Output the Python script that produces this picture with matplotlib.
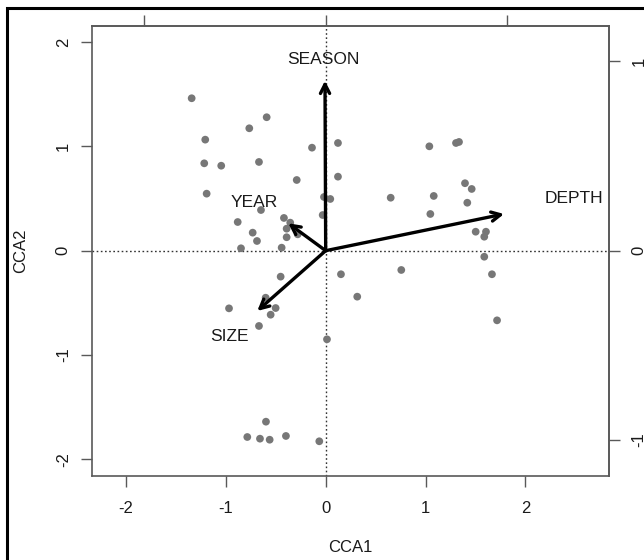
import matplotlib
matplotlib.use("Agg")
import matplotlib.pyplot as plt
from matplotlib.patches import Rectangle

plt.rcParams['font.family'] = ['Liberation Sans', 'DejaVu Sans']
plt.rcParams['axes.unicode_minus'] = False

# site scores (CCA1, CCA2)
site_x = [-1.342, -0.591, -0.765, -1.206, 0.123, -0.137, -1.216, -1.046, -0.668, 0.123,
          -0.290, -1.192, -0.017, 0.046, -0.648, -0.030, -0.881, -0.418, -0.355, -0.391,
          -0.280, -0.731, -0.688, -0.391, -0.848, -0.441,
          -0.451, 0.153, 0.316, -0.601, -0.968, -0.501, -0.551, -0.668, 0.013, -0.598,
          -0.785, -0.658, -0.561, -0.398, -0.064,
          1.038, 1.305, 1.335, 1.395, 1.462, 0.651, 1.082, 1.418, 1.048, 1.502,
          1.605, 1.588, 1.588, 0.757, 1.665, 1.716]
site_y = [1.462, 1.280, 1.174, 1.065, 1.033, 0.988, 0.838, 0.815, 0.851, 0.710,
          0.678, 0.547, 0.515, 0.496, 0.390, 0.342, 0.275, 0.314, 0.269, 0.211,
          0.157, 0.173, 0.093, 0.129, 0.023, 0.029,
          -0.249, -0.226, -0.441, -0.451, -0.553, -0.550, -0.614, -0.722, -0.850, -1.640,
          -1.787, -1.803, -1.813, -1.777, -1.828,
          1.001, 1.033, 1.043, 0.647, 0.592, 0.508, 0.525, 0.460, 0.352, 0.182,
          0.182, 0.134, -0.058, -0.185, -0.226, -0.668]

# environmental arrows (end points in plot units) and label positions
env_names = ['SEASON', 'DEPTH', 'YEAR', 'SIZE']
env_x = [-0.007, 1.786, -0.375, -0.685]
env_y = [1.63, 0.352, 0.263, -0.578]
lab_x = [-0.02, 2.49, -0.72, -0.965]
lab_y = [1.83, 0.496, 0.46, -0.825]

arrow_mul = 1.815  # scaling of the biplot arrows (top / right axes)

xticks = [-2, -1, 0, 1, 2]
yticks = [-2, -1, 0, 1, 2]
arrow_ticks = [-1, 0, 1]

W, H = 644, 560
fig = plt.figure(figsize=(W / 100, H / 100), dpi=100)
ax = fig.add_axes([91.7 / W, 1 - 476 / H, (609.3 - 91.7) / W, (476 - 26) / H])

frame_col = '#595959'
txt_col = '#1a1a1a'

ax.axhline(0, color='#333333', lw=1, ls=(0, (1.2, 1.8)), zorder=1)
ax.axvline(0, color='#333333', lw=1, ls=(0, (1.2, 1.8)), zorder=1)

ax.scatter(site_x, site_y, s=31, color='#777777', edgecolors='none', zorder=2)

for name, x, y, lx, ly in zip(env_names, env_x, env_y, lab_x, lab_y):
    ax.annotate('', xy=(x, y), xytext=(0, 0),
                arrowprops=dict(arrowstyle='->, head_length=0.65, head_width=0.33',
                                lw=2.4, color='black', shrinkA=0, shrinkB=0),
                zorder=3)
    ax.text(lx, ly, name, ha='center', va='center', fontsize=12.5, color=txt_col, zorder=4)

ax.set_xlim(-2.343, 2.840)
ax.set_ylim(-2.161, 2.155)
ax.set_xticks(xticks)
ax.set_yticks(yticks)
ax.set_xticklabels([str(t) for t in xticks])
ax.set_yticklabels([str(t) for t in yticks])

for sp in ax.spines.values():
    sp.set_color(frame_col)
    sp.set_linewidth(1.2)
ax.tick_params(axis='both', direction='out', length=8, width=1, color=frame_col,
               labelsize=12, labelcolor=txt_col)
ax.tick_params(axis='x', pad=10)
ax.tick_params(axis='y', pad=7, labelrotation=90)
for lbl in ax.get_yticklabels():
    lbl.set_va('center')

# secondary axes for arrow scale
top = ax.secondary_xaxis('top', functions=(lambda v: v / arrow_mul, lambda v: v * arrow_mul))
top.set_xticks(arrow_ticks)
top.tick_params(direction='out', length=8, width=1, color=frame_col, labeltop=False)
top.spines['top'].set_color(frame_col)
top.spines['top'].set_linewidth(1.2)

right = ax.secondary_yaxis('right', functions=(lambda v: v / arrow_mul, lambda v: v * arrow_mul))
right.set_yticks(arrow_ticks)
right.set_yticklabels([str(t) for t in arrow_ticks])
right.tick_params(direction='out', length=8, width=1, color=frame_col,
                  labelsize=12, labelcolor=txt_col, pad=8, labelrotation=90)
for lbl in right.get_yticklabels():
    lbl.set_va('center')
right.spines['right'].set_color(frame_col)
right.spines['right'].set_linewidth(1.2)

fig.text(350.5 / W, 1 - 547 / H, 'CCA1', ha='center', va='center', fontsize=12, color=txt_col)
fig.text(21 / W, 1 - 251 / H, 'CCA2', ha='center', va='center', rotation=90,
         fontsize=12, color=txt_col)

# outer frame of the screenshot (only top and left edges visible)
fig.add_artist(Rectangle((6.5 / W, -0.2), 1.5, 1.2 - 7.5 / H, transform=fig.transFigure,
                         fill=False, ec='black', lw=2.2))

fig.savefig('out.png', dpi=100)
